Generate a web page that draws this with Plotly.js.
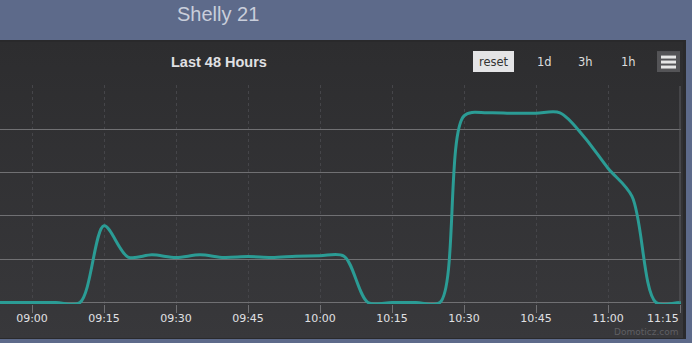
<!DOCTYPE html>
<html><head><meta charset="utf-8">
<script src="https://cdn.plot.ly/plotly-3.0.1.min.js"></script>
<style>
html,body{margin:0;padding:0;background:#5d6a8a;width:692px;height:343px;overflow:hidden}
#panel{position:absolute;left:0;top:40px;width:686px;height:299px;box-sizing:border-box;border-top:2px solid #29292b;border-right:3px solid #2a2a2c;border-bottom:1px solid #2a2a2c;background:linear-gradient(to bottom,#2d2d2f,#38383b)}
#chart{position:absolute;left:0;top:0;width:692px;height:343px}
</style></head><body>
<div id="panel"></div><div id="chart"></div>
<script>
// ---- data ----
const times = ['08:50','08:55','09:00','09:05','09:10','09:15','09:20','09:25','09:30','09:35','09:40','09:45','09:50','09:55','10:00','10:05','10:10','10:15','10:20','10:25','10:30','10:35','10:40','10:45','10:50','10:55','11:00','11:05','11:10','11:15','11:20'];
const watts = [0,0,0,0,0,177,105,110,104,110,104,106,104,107,108,107,0,0,0,0,431,438,437,437,438,383,310,245,0,0,0];
const tickTimes = ['09:00','09:15','09:30','09:45','10:00','10:15','10:30','10:45','11:00','11:15'];
const tickLabels = ['09:00','09:15','09:30','09:45','10:00','10:15','10:30','10:45','11:00','11:15'];
const yGrid = [0,100,200,300,400,500];
const chartTitle = 'Last 48 Hours';
const deviceName = 'Shelly 21';
const rangeButtons = ['reset','1d','3h','1h'];
const creditText = 'Domoticz.com';

const day = '2024-01-01 ';
const T = 85, plotH = 219.5, plotW = 681;
const px = x => x / plotW;
const py = y => (T + plotH - y) / plotH;

const trace = {
  x: times.map(t => day + t), y: watts, type: 'scatter', mode: 'lines',
  line: {color: '#2b9c95', width: 3, shape: 'spline', smoothing: 0.9},
  hoverinfo: 'skip'
};

const lastIdx = tickLabels.length - 1;
const shapes = [
  {type:'line', xref:'paper', yref:'paper', x0:px(680), x1:px(680), y0:py(86), y1:py(303), line:{color:'#5c5c60', width:1}},
  {type:'rect', xref:'paper', yref:'paper', x0:px(473), x1:px(514), y0:py(72), y1:py(51), fillcolor:'#e4e4e6', line:{width:0}},
  {type:'rect', xref:'paper', yref:'paper', x0:px(657), x1:px(680), y0:py(72), y1:py(51), fillcolor:'#545457', line:{width:0}},
  {type:'rect', xref:'paper', yref:'paper', x0:px(661), x1:px(676), y0:py(58.5), y1:py(55.5), fillcolor:'#e6e6e6', line:{width:0}},
  {type:'rect', xref:'paper', yref:'paper', x0:px(661), x1:px(676), y0:py(63.5), y1:py(60.5), fillcolor:'#e6e6e6', line:{width:0}},
  {type:'rect', xref:'paper', yref:'paper', x0:px(661), x1:px(676), y0:py(68.5), y1:py(65.5), fillcolor:'#e6e6e6', line:{width:0}}
];
const btnX = [493.5, 544, 585.5, 628];
const annotations = [
  {text: deviceName, xref:'paper', yref:'paper', x:px(175), y:py(13.5), xanchor:'left', yanchor:'middle', showarrow:false, font:{family:'Liberation Sans', size:20, color:'#c9cedb'}},
  {text: '<b>' + chartTitle + '</b>', xref:'paper', yref:'paper', x:px(219), y:py(62), xanchor:'center', yanchor:'middle', showarrow:false, font:{family:'Liberation Sans', size:14.5, color:'#E0E0E3'}},
  {text: tickLabels[lastIdx], xref:'paper', yref:'paper', x:px(681), y:py(319.5), xanchor:'right', yanchor:'middle', showarrow:false, font:{family:'DejaVu Sans', size:11, color:'#E0E0E3'}},
  {text: creditText, xref:'paper', yref:'paper', x:px(681), y:py(333), xanchor:'right', yanchor:'middle', showarrow:false, font:{family:'DejaVu Sans', size:9, color:'#5f5f63'}}
];
rangeButtons.forEach((b, i) => annotations.push({text: b, xref:'paper', yref:'paper', x:px(btnX[i]), y:py(62), xanchor:'center', yanchor:'middle', showarrow:false, font:{family:'DejaVu Sans', size:11.5, color: i === 0 ? '#333333' : '#dddddd'}}));

const layout = {
  width: 692, height: 343,
  margin: {l:0, r:692 - plotW, t:T, b:343 - T - plotH, pad:0},
  paper_bgcolor: 'rgba(0,0,0,0)', plot_bgcolor: 'rgba(0,0,0,0)',
  showlegend: false,
  xaxis: {
    type: 'date', range: [day + '08:53:20', day + '11:15:12.5'],
    tickvals: tickTimes.map(t => day + t),
    ticktext: tickLabels.map((l, i) => i === lastIdx ? '' : l),
    ticks: 'outside', ticklen: 8, tickcolor: '#707073', tickwidth: 1,
    ticklabelstandoff: -4,
    showgrid: true, gridcolor: '#454549', griddash: 'dot', gridwidth: 1,
    zeroline: false, showline: false, fixedrange: true,
    tickfont: {family: 'DejaVu Sans', size: 11, color: '#E0E0E3'}
  },
  yaxis: {
    range: [-3.5, 502.3], tickvals: yGrid, showticklabels: false, ticks: '',
    showgrid: true, gridcolor: '#707073', gridwidth: 1, zeroline: false, showline: false, fixedrange: true
  },
  shapes: shapes, annotations: annotations
};
Plotly.newPlot('chart', [trace], layout, {displayModeBar: false, staticPlot: true});
</script>
</body></html>
